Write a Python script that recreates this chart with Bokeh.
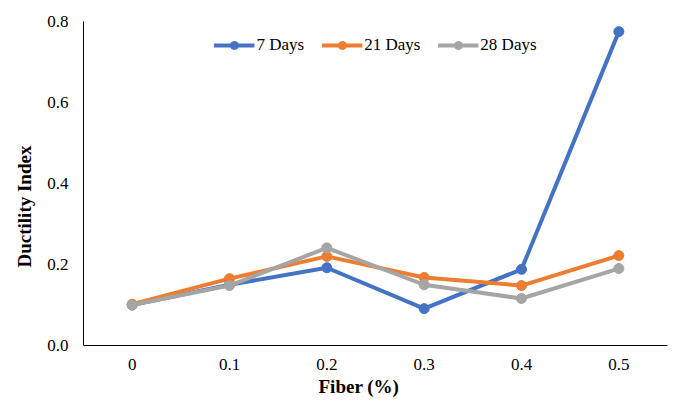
from bokeh.plotting import figure
from bokeh.models import FactorRange, Range1d, Legend, LegendItem, FixedTicker, NumeralTickFormatter, Title
from bokeh.embed import file_html
from bokeh.resources import INLINE

fiber = ["0", "0.1", "0.2", "0.3", "0.4", "0.5"]
days7 = [0.10, 0.15, 0.192, 0.091, 0.188, 0.775]
days21 = [0.102, 0.165, 0.22, 0.168, 0.148, 0.222]
days28 = [0.10, 0.148, 0.241, 0.150, 0.116, 0.19]
series_names = ["7 Days", "21 Days", "28 Days"]
colors = ["#4472C4", "#ED7D31", "#A5A5A5"]
x_title = "Fiber (%)"
y_title = "Ductility Index"

FONT = "Liberation Serif"

p = figure(width=673, height=398, output_backend="svg", toolbar_location=None,
           x_range=FactorRange(factors=fiber, range_padding=0),
           y_range=Range1d(0, 0.8),
           min_border_left=83, min_border_right=6, min_border_top=21, min_border_bottom=53)
p.outline_line_color = None
p.grid.visible = False

items = []
for name, vals, c in zip(series_names, [days7, days21, days28], colors):
    r1 = p.line(fiber, vals, line_color=c, line_width=4)
    r2 = p.scatter(fiber, vals, size=10, fill_color=c, line_color=c)
    items.append(LegendItem(label=name, renderers=[r1, r2]))

legend = Legend(items=items, orientation="horizontal", location="top_center",
                border_line_color=None, background_fill_alpha=0,
                label_text_font=FONT, label_text_font_size="17px",
                label_text_color="#000000",
                glyph_width=41, glyph_height=20, label_standoff=2, spacing=17,
                margin=14, padding=0)
p.add_layout(legend, "center")

p.yaxis.ticker = FixedTicker(ticks=[0, 0.2, 0.4, 0.6, 0.8])
p.yaxis.formatter = NumeralTickFormatter(format="0.0")
for ax in [p.xaxis[0], p.yaxis[0]]:
    ax.major_tick_line_color = None
    ax.minor_tick_line_color = None
    ax.major_tick_out = 0
    ax.major_tick_in = 0
    ax.minor_tick_out = 0
    ax.minor_tick_in = 0
    ax.axis_line_color = "#000000"
    ax.major_label_text_font = FONT
    ax.major_label_text_font_size = "17px"
    ax.major_label_text_color = "#000000"
p.xaxis.major_label_standoff = 13
p.yaxis.major_label_standoff = 15

# axis titles placed like the original (offset from the frame centre)
p.add_layout(Title(text=x_title, align="left", offset=235, standoff=2,
                   text_font=FONT, text_font_size="19px", text_font_style="bold",
                   text_color="#000000"), "below")
p.add_layout(Title(text=y_title, align="left", offset=78, standoff=20,
                   text_font=FONT, text_font_size="19px", text_font_style="bold",
                   text_color="#000000"), "left")

open("out.html", "w").write(file_html(p, INLINE))
